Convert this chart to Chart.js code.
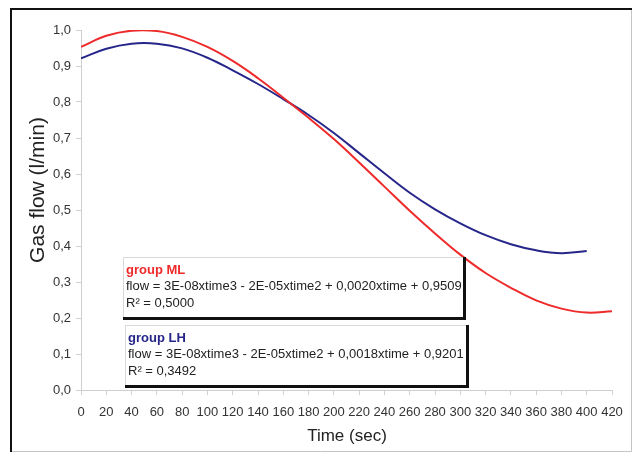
<!DOCTYPE html>
<html>
<head>
<meta charset="utf-8">
<script src="https://cdn.jsdelivr.net/npm/chart.js@4/dist/chart.umd.min.js"></script>
<style>
  body { margin: 0; background: #fff; }
  #wrap { width: 633px; height: 454px; position: relative; }
</style>
</head>
<body>
<div id="wrap"><canvas id="flowChart" width="633" height="454"></canvas></div>
<script>
// time points (sec)
const timeML = [0, 20, 40, 60, 80, 100, 120, 140, 160, 180, 200, 220, 240, 260, 280, 300, 320, 340, 360, 380, 400, 420];
const flowML = [0.953, 0.984, 0.998, 0.997, 0.981, 0.953, 0.914, 0.866, 0.812, 0.756, 0.697, 0.632, 0.565, 0.498, 0.435, 0.376, 0.325, 0.284, 0.249, 0.226, 0.215, 0.219];

const timeLH = [0, 20, 40, 60, 80, 100, 120, 140, 160, 180, 200, 220, 240, 260, 280, 300, 320, 340, 360, 380, 400];
const flowLH = [0.921, 0.948, 0.962, 0.962, 0.949, 0.923, 0.888, 0.850, 0.808, 0.764, 0.714, 0.658, 0.602, 0.548, 0.502, 0.463, 0.430, 0.405, 0.388, 0.380, 0.386];

const xTicks = [0, 20, 40, 60, 80, 100, 120, 140, 160, 180, 200, 220, 240, 260, 280, 300, 320, 340, 360, 380, 400, 420];
const yTickLabels = ["0,0", "0,1", "0,2", "0,3", "0,4", "0,5", "0,6", "0,7", "0,8", "0,9", "1,0"];

const redColor = "#ee2a2a";
const blueColor = "#26268a";
const fontFamily = "'Liberation Sans', Arial, sans-serif";

const boxes = [
  { title: "group ML", color: redColor, eq: "flow = 3E-08xtime3 - 2E-05xtime2 + 0,0020xtime + 0,9509", r2: "R\u00b2 = 0,5000",
    x: 123, y: 257, w: 342, h: 62 },
  { title: "group LH", color: blueColor, eq: "flow = 3E-08xtime3 - 2E-05xtime2 + 0,0018xtime + 0,9201", r2: "R\u00b2 = 0,3492",
    x: 125, y: 325, w: 343, h: 62 },
];

function toPoints(xs, ys) {
  return xs.map((t, i) => ({ x: t, y: ys[i] }));
}

const framePlugin = {
  id: "frame",
  beforeDraw(chart) {
    const ctx = chart.ctx;
    ctx.save();
    ctx.fillStyle = "#fff";
    ctx.fillRect(0, 0, 633, 454);
    // outer frame
    ctx.strokeStyle = "#c4c4c4";
    ctx.lineWidth = 1;
    ctx.beginPath();
    ctx.moveTo(631.5, 9);
    ctx.lineTo(631.5, 451.5);
    ctx.lineTo(10, 451.5);
    ctx.stroke();
    ctx.strokeStyle = "#111";
    ctx.lineWidth = 2;
    ctx.beginPath();
    ctx.moveTo(11, 452);
    ctx.lineTo(11, 9);
    ctx.lineTo(632, 9);
    ctx.stroke();
    ctx.restore();
  },
  afterDraw(chart) {
    const ctx = chart.ctx;
    ctx.save();
    // axis titles
    ctx.fillStyle = "#222";
    ctx.font = "17px " + fontFamily;
    ctx.textAlign = "center";
    ctx.textBaseline = "middle";
    ctx.fillText("Time (sec)", 347, 436);
    ctx.translate(38, 190);
    ctx.rotate(-Math.PI / 2);
    ctx.font = "21px " + fontFamily;
    ctx.fillText("Gas flow (l/min)", 0, 0);
    ctx.restore();

    // equation boxes
    boxes.forEach((b) => {
      ctx.save();
      ctx.fillStyle = "#fff";
      ctx.fillRect(b.x, b.y, b.w, b.h);
      ctx.strokeStyle = "#d8d8d8";
      ctx.lineWidth = 1;
      ctx.beginPath();
      ctx.moveTo(b.x + 0.5, b.y + b.h);
      ctx.lineTo(b.x + 0.5, b.y + 0.5);
      ctx.lineTo(b.x + b.w, b.y + 0.5);
      ctx.stroke();
      ctx.fillStyle = "#111";
      ctx.fillRect(b.x + b.w - 2, b.y, 3, b.h + 1);
      ctx.fillRect(b.x, b.y + b.h - 2, b.w + 1, 3);
      ctx.textAlign = "left";
      ctx.textBaseline = "middle";
      ctx.fillStyle = b.color;
      ctx.font = "bold 13px " + fontFamily;
      ctx.fillText(b.title, b.x + 3, b.y + 13);
      ctx.fillStyle = "#222";
      ctx.font = "13px " + fontFamily;
      ctx.fillText(b.eq, b.x + 3, b.y + 29);
      ctx.fillText(b.r2, b.x + 3, b.y + 46);
      ctx.restore();
    });
  },
};

new Chart("flowChart", {
  type: "line",
  data: {
    datasets: [
      {
        label: "group ML",
        data: toPoints(timeML, flowML),
        borderColor: redColor,
        borderWidth: 2,
        pointRadius: 0,
        tension: 0.4,
        fill: false,
      },
      {
        label: "group LH",
        data: toPoints(timeLH, flowLH),
        borderColor: blueColor,
        borderWidth: 2,
        pointRadius: 0,
        tension: 0.4,
        fill: false,
      },
    ],
  },
  options: {
    responsive: false,
    animation: false,
    layout: { padding: { left: 0, right: 21, top: 30, bottom: 0 } },
    plugins: {
      legend: { display: false },
      tooltip: { enabled: false },
    },
    scales: {
      x: {
        type: "linear",
        min: 0,
        max: 420,
        afterFit(scale) { scale.height = 64; },
        afterBuildTicks(scale) { scale.ticks = xTicks.map((v) => ({ value: v })); },
        grid: { drawOnChartArea: false, drawTicks: true, tickLength: 5, color: "#cfcfcf" },
        border: { color: "#cfcfcf" },
        ticks: {
          autoSkip: false,
          maxRotation: 0,
          padding: 10,
          color: "#333",
          font: { family: fontFamily, size: 13 },
        },
      },
      y: {
        min: 0,
        max: 1,
        afterFit(scale) { scale.width = 81; },
        grid: { drawOnChartArea: false, drawTicks: true, tickLength: 5, color: "#cfcfcf" },
        border: { color: "#cfcfcf" },
        ticks: {
          stepSize: 0.1,
          padding: 5,
          color: "#333",
          font: { family: fontFamily, size: 13 },
          callback: (v) => yTickLabels[Math.round(v * 10)],
        },
      },
    },
  },
  plugins: [framePlugin],
});
</script>
</body>
</html>
